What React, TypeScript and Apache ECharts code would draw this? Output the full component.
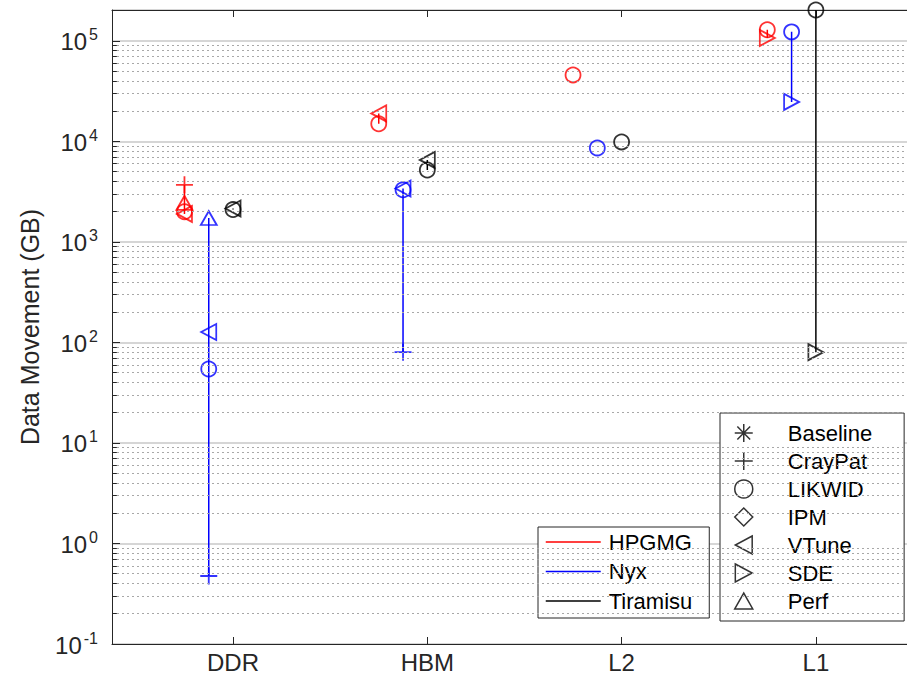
import React, { useEffect, useRef } from 'react';
import * as echarts from 'echarts';

// ---- data ----
const categories = ['DDR', 'HBM', 'L2', 'L1'];
const apps = ['HPGMG', 'Nyx', 'Tiramisu'];
const tools = ['Baseline', 'CrayPat', 'LIKWID', 'IPM', 'VTune', 'SDE', 'Perf'];

// values per level: DDR, HBM, L2, L1 (GB); null = not measured
const hpgmgBaseline = [null, null, null, null];
const hpgmgCrayPat = [3700, null, null, null];
const hpgmgLikwid = [2000, 15000, 45900, 129000];
const hpgmgIpm = [null, null, null, null];
const hpgmgVtune = [1900, 19000, null, null];
const hpgmgSde = [null, null, null, 107000];
const hpgmgPerf = [2450, null, null, null];

const nyxBaseline = [null, null, null, null];
const nyxCrayPat = [0.475, 80, null, null];
const nyxLikwid = [54.5, 3300, 8610, 123000];
const nyxIpm = [null, null, null, null];
const nyxVtune = [127, 3400, null, null];
const nyxSde = [null, null, null, 24700];
const nyxPerf = [1730, null, null, null];

const tiramisuBaseline = [null, null, null, null];
const tiramisuCrayPat = [null, null, null, null];
const tiramisuLikwid = [2100, 5200, 9890, 203000];
const tiramisuIpm = [null, null, null, null];
const tiramisuVtune = [2150, 6550, null, null];
const tiramisuSde = [null, null, null, 80];
const tiramisuPerf = [null, null, null, null];

const dataByApp: Record<string, (number | null)[][]> = {
  HPGMG: [hpgmgBaseline, hpgmgCrayPat, hpgmgLikwid, hpgmgIpm, hpgmgVtune, hpgmgSde, hpgmgPerf],
  Nyx: [nyxBaseline, nyxCrayPat, nyxLikwid, nyxIpm, nyxVtune, nyxSde, nyxPerf],
  Tiramisu: [tiramisuBaseline, tiramisuCrayPat, tiramisuLikwid, tiramisuIpm, tiramisuVtune, tiramisuSde, tiramisuPerf],
};

// ---- styling ----
const appColors = ['#ff0000', '#0000ff', '#000000'];
const appOffsets = [-0.25, -0.125, 0];
const FONT = '"Liberation Sans", Arial, Helvetica, sans-serif';
const TEXT = '#262626';

const symbolOf: Record<string, { symbol: string; size: number | number[] }> = {
  Baseline: { symbol: 'path://M8,0L8,16M0,8L16,8M2.3,2.3L13.7,13.7M2.3,13.7L13.7,2.3', size: 15 },
  CrayPat: { symbol: 'path://M8,0L8,16M0,8L16,8', size: 17 },
  LIKWID: { symbol: 'circle', size: 15 },
  IPM: { symbol: 'diamond', size: [14, 18] },
  VTune: { symbol: 'path://M15,0L0,8L15,16Z', size: [15, 16] },
  SDE: { symbol: 'path://M0,0L15,8L0,16Z', size: [15, 16] },
  Perf: { symbol: 'path://M0,14L8,0L16,14Z', size: [16, 14] },
};

const X_MIN = 0.377;
const X_MAX = 4.469;
const Y_MIN = 0.1;
const Y_MAX = 203000;

function buildOption() {
  const series: any[] = [];

  // minor grid lines (2..9 x 10^k) and minor ticks
  const minorVals: number[] = [];
  for (let k = -1; k <= 5; k++) {
    for (let m = 2; m <= 9; m++) {
      const v = m * Math.pow(10, k);
      if (v < Y_MAX * 0.97) minorVals.push(v);
    }
  }
  series.push({
    type: 'line',
    name: '__grid',
    data: [],
    silent: true,
    z: 1,
    markLine: {
      silent: true,
      symbol: ['none', 'none'],
      label: { show: false },
      animation: false,
      lineStyle: { type: [2, 3], color: '#a8a8a8', width: 1 },
      data: minorVals.map((v) => ({ yAxis: v })),
    },
  });
  series.push({
    type: 'line',
    name: '__minorTicks',
    data: [],
    silent: true,
    z: 5,
    markLine: {
      silent: true,
      symbol: ['none', 'none'],
      label: { show: false },
      animation: false,
      lineStyle: { type: 'solid', color: TEXT, width: 1 },
      data: minorVals.map((v) => [{ coord: [X_MIN, v] }, { coord: [X_MIN + 0.025, v] }]),
    },
  });

  // vertical range lines per app / level
  apps.forEach((app, ai) => {
    const rows = dataByApp[app];
    categories.forEach((_, ci) => {
      const vals = rows.map((r) => r[ci]).filter((v) => v != null) as number[];
      if (vals.length < 2) return;
      const x = ci + 1 + appOffsets[ai];
      series.push({
        type: 'line',
        name: app,
        data: [
          [x, Math.min(...vals)],
          [x, Math.max(...vals)],
        ],
        symbol: 'none',
        showSymbol: false,
        lineStyle: { color: appColors[ai], width: 1.5 },
        itemStyle: { color: appColors[ai] },
        z: 2,
        silent: true,
      });
    });
  });

  // markers
  apps.forEach((app, ai) => {
    const rows = dataByApp[app];
    tools.forEach((tool, ti) => {
      const pts: number[][] = [];
      rows[ti].forEach((v, ci) => {
        if (v != null) pts.push([ci + 1 + appOffsets[ai], v]);
      });
      if (!pts.length) return;
      series.push({
        type: 'scatter',
        name: app + ' ' + tool,
        data: pts,
        symbol: symbolOf[tool].symbol,
        symbolSize: symbolOf[tool].size,
        itemStyle: { color: 'rgba(0,0,0,0)', borderColor: appColors[ai], borderWidth: 1.8 },
        z: 3,
        silent: true,
      });
    });
  });

  // legend-only series for the tools
  tools.forEach((tool) => {
    series.push({
      type: 'scatter',
      name: tool,
      data: [],
      symbol: symbolOf[tool].symbol,
      symbolSize: symbolOf[tool].size,
      itemStyle: { color: 'rgba(0,0,0,0)', borderColor: '#000', borderWidth: 1.5 },
    });
  });

  const xCommon = {
    type: 'value',
    min: X_MIN,
    max: X_MAX,
    splitLine: { show: false },
    axisLine: { show: true, onZero: false, lineStyle: { color: TEXT, width: 1 } },
  };

  return {
    animation: false,
    backgroundColor: '#ffffff',
    textStyle: { fontFamily: FONT },
    grid: { left: 112, top: 10, right: 0, bottom: 35, containLabel: false },
    legend: [
      {
        data: apps,
        orient: 'vertical',
        left: 538,
        top: 527,
        padding: [4, 17, 6, 7],
        itemGap: 7.5,
        itemWidth: 55,
        itemHeight: 14,
        backgroundColor: '#ffffff',
        borderColor: TEXT,
        borderWidth: 1,
        borderRadius: 0,
        selectedMode: false,
        itemStyle: { color: 'rgba(0,0,0,0)', borderColor: 'rgba(0,0,0,0)', borderWidth: 0 },
        lineStyle: { width: 1.5 },
        textStyle: { fontSize: 22, color: '#000', fontFamily: FONT, lineHeight: 22, padding: [0, 0, 0, 3] },
      },
      {
        data: tools,
        orient: 'vertical',
        left: 720,
        top: 413,
        padding: [9, 32, 9, 14],
        itemGap: 6,
        itemWidth: 18,
        itemHeight: 18,
        backgroundColor: '#ffffff',
        borderColor: TEXT,
        borderWidth: 1,
        borderRadius: 0,
        selectedMode: false,
        itemStyle: { color: 'rgba(0,0,0,0)', borderColor: '#000', borderWidth: 1.5 },
        textStyle: { fontSize: 22, color: '#000', fontFamily: FONT, lineHeight: 22, padding: [0, 0, 0, 30] },
      },
    ],
    xAxis: [
      {
        ...xCommon,
        position: 'bottom',
        axisTick: { show: true, inside: true, length: 7, customValues: [1, 2, 3, 4], lineStyle: { color: TEXT } },
        axisLabel: {
          customValues: [1, 2, 3, 4],
          formatter: (v: number) => categories[Math.round(v) - 1] ?? '',
          fontSize: 24,
          color: TEXT,
          fontFamily: FONT,
          margin: 6,
        },
      },
      {
        ...xCommon,
        position: 'top',
        axisTick: { show: true, inside: true, length: 7, customValues: [1, 2, 3, 4], lineStyle: { color: TEXT } },
        axisLabel: { show: false },
      },
    ],
    yAxis: {
      type: 'log',
      logBase: 10,
      min: Y_MIN,
      max: Y_MAX,
      name: 'Data Movement (GB)',
      nameLocation: 'middle',
      nameRotate: 90,
      nameGap: 70,
      nameTextStyle: { fontSize: 25, color: TEXT, fontFamily: FONT },
      axisLine: { show: true, onZero: false, lineStyle: { color: TEXT, width: 1 } },
      axisTick: { show: true, inside: true, length: 8, lineStyle: { color: TEXT } },
      splitLine: { show: true, lineStyle: { color: '#c8c8c8', width: 1.5 } },
      axisLabel: {
        margin: 14,
        showMaxLabel: false,
        formatter: (v: number) => {
          const e = Math.round(Math.log10(v));
          if (Math.abs(Math.log10(v) - e) > 1e-6) return '';
          return '{b|10}{s|' + e + '}';
        },
        rich: {
          b: { fontSize: 24, color: TEXT, fontFamily: FONT, verticalAlign: 'bottom', lineHeight: 26 },
          s: { fontSize: 16, color: TEXT, fontFamily: FONT, verticalAlign: 'bottom', lineHeight: 18, padding: [0, 0, 11, 2] },
        },
      },
    },
    series,
  };
}

export default function App() {
  const ref = useRef<HTMLDivElement>(null);
  useEffect(() => {
    if (!ref.current) return;
    const chart = echarts.init(ref.current, undefined, { renderer: 'svg' });
    chart.setOption(buildOption() as any);
    return () => chart.dispose();
  }, []);
  return (
    <div
      ref={ref}
      style={{ position: 'fixed', left: 0, top: 0, width: 907, height: 679, background: '#fff' }}
    />
  );
}
